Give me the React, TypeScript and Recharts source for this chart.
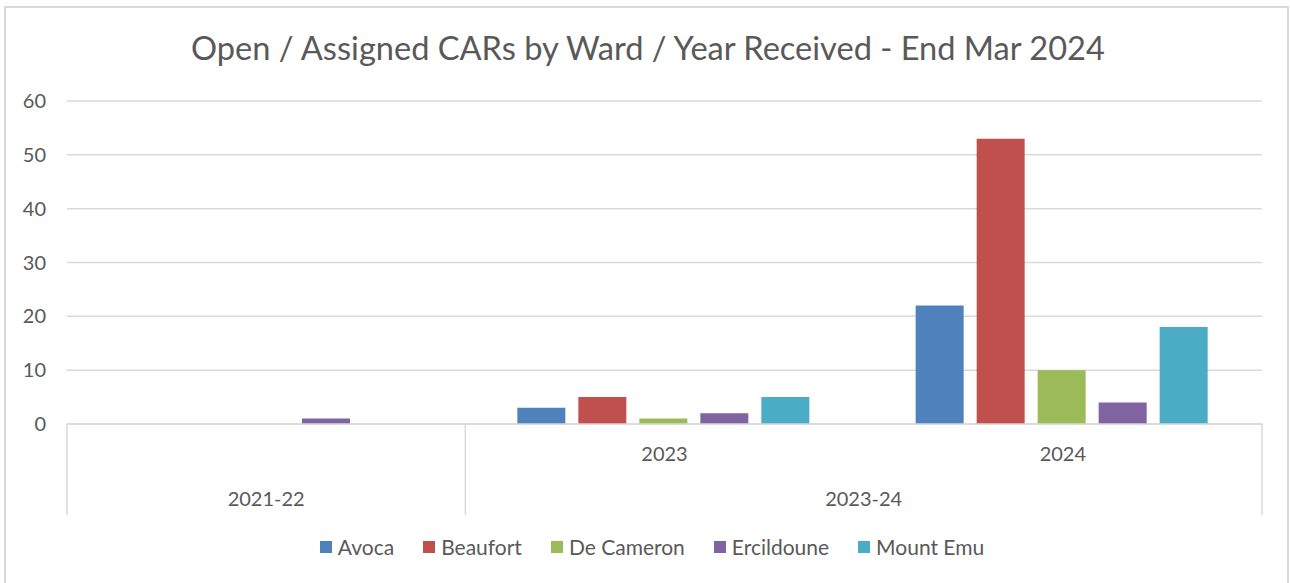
import { BarChart, Bar, XAxis, YAxis, CartesianGrid, Legend } from "recharts";

// Libellés de l'axe X (niveau interne) et regroupements (niveau externe)
const innerLabels = ["", "2023", "2024"];
const groupLabels = ["2021-22", "2023-24"];
const groupSpans = [1, 2];

const wards = ["Avoca", "Beaufort", "De Cameron", "Ercildoune", "Mount Emu"];
const colors = ["#4F81BD", "#C0504D", "#9BBB59", "#8064A2", "#4BACC6"];

const avoca = [null, 3, 22];
const beaufort = [null, 5, 53];
const deCameron = [null, 1, 10];
const ercildoune = [1, 2, 4];
const mountEmu = [null, 5, 18];

const yTicks = [0, 10, 20, 30, 40, 50, 60];

const series = [avoca, beaufort, deCameron, ercildoune, mountEmu];
const data = innerLabels.map((label, i) => {
  const row: Record<string, string | number | null> = { label };
  wards.forEach((w, s) => (row[w] = series[s][i]));
  return row;
});

// Limites des groupes et positions des libellés sur un axe numérique parallèle
const boundaries: number[] = [0];
const mids: number[] = [];
groupSpans.forEach((span) => {
  const start = boundaries[boundaries.length - 1];
  mids.push(start + span / 2);
  boundaries.push(start + span);
});
const groupTicks = [...boundaries, ...mids].sort((a, b) => a - b);

const FONT = "Lato, 'Open Sans', sans-serif";
const TEXT = "#595959";
const GRID = "#d9d9d9";

function GroupTick({ x, y, payload }: any) {
  const gi = mids.indexOf(payload.value);
  if (gi >= 0) {
    return (
      <text x={x} y={y + 73} textAnchor="middle" dominantBaseline="central"
        fill={TEXT} fontSize={20} fontFamily={FONT}>
        {groupLabels[gi]}
      </text>
    );
  }
  return <line x1={x} y1={y - 1} x2={x} y2={y + 90} stroke={GRID} strokeWidth={1.5} />;
}

function InnerTick({ x, y, payload }: any) {
  return (
    <text x={x} y={y + 29} textAnchor="middle" dominantBaseline="central"
      fill={TEXT} fontSize={20} fontFamily={FONT}>
      {payload.value}
    </text>
  );
}

function LegendContent() {
  return (
    <div style={{ display: "flex", justifyContent: "center", fontFamily: FONT, fontSize: 21, color: TEXT }}>
      {wards.map((w, i) => (
        <div key={w} style={{ display: "flex", alignItems: "center", marginRight: i < wards.length - 1 ? 29 : 0 }}>
          <span style={{ width: 12, height: 12, background: colors[i], marginRight: 6, display: "inline-block" }} />
          {w}
        </div>
      ))}
    </div>
  );
}

export default function App() {
  return (
    <div style={{ position: "absolute", left: 0, top: 0, width: 1290, height: 583, overflow: "hidden", background: "#fff", fontFamily: FONT }}>
      {/* Cadre du graphique : pas de bord inférieur visible dans la capture */}
      <div style={{ position: "absolute", left: 4, top: 6, width: 1281, height: 600, border: `2px solid ${GRID}` }} />
      <div style={{ position: "absolute", left: 0, top: 28, width: 1296, textAlign: "center", fontSize: 32.6, color: TEXT }}>
        Open / Assigned CARs by Ward / Year Received - End Mar 2024
      </div>
      <div style={{ position: "absolute", left: 0, top: 0 }}>
        <BarChart width={1290} height={583} data={data}
          margin={{ top: 101, right: 28, left: 0, bottom: 157 }}
          barCategoryGap={52} barGap={13}>
          <CartesianGrid xAxisId="cat" vertical={false} stroke={GRID} strokeWidth={1.5} />
          <YAxis domain={[0, 60]} ticks={yTicks} width={67} axisLine={false} tickLine={false}
            tickMargin={15} tick={{ fill: TEXT, fontSize: 20, fontFamily: FONT }} />
          <XAxis xAxisId="cat" dataKey="label" height={1} tickSize={0} tickMargin={0}
            axisLine={{ stroke: GRID, strokeWidth: 1.5 }} tickLine={false} interval={0}
            tick={<InnerTick />} />
          <XAxis xAxisId="grp" dataKey="groupPos" type="number" scale="linear"
            domain={[0, innerLabels.length]} allowDataOverflow
            ticks={groupTicks} interval={0} height={1} tickSize={0} tickMargin={0}
            axisLine={false} tickLine={false} tick={<GroupTick />} />
          <Legend layout="horizontal" verticalAlign="middle" align="center"
            wrapperStyle={{ top: 534, left: 0, width: 1304 }} content={<LegendContent />} />
          {wards.map((w, i) => (
            <Bar key={w} xAxisId="cat" dataKey={w} fill={colors[i]} isAnimationActive={false} />
          ))}
        </BarChart>
      </div>
    </div>
  );
}
